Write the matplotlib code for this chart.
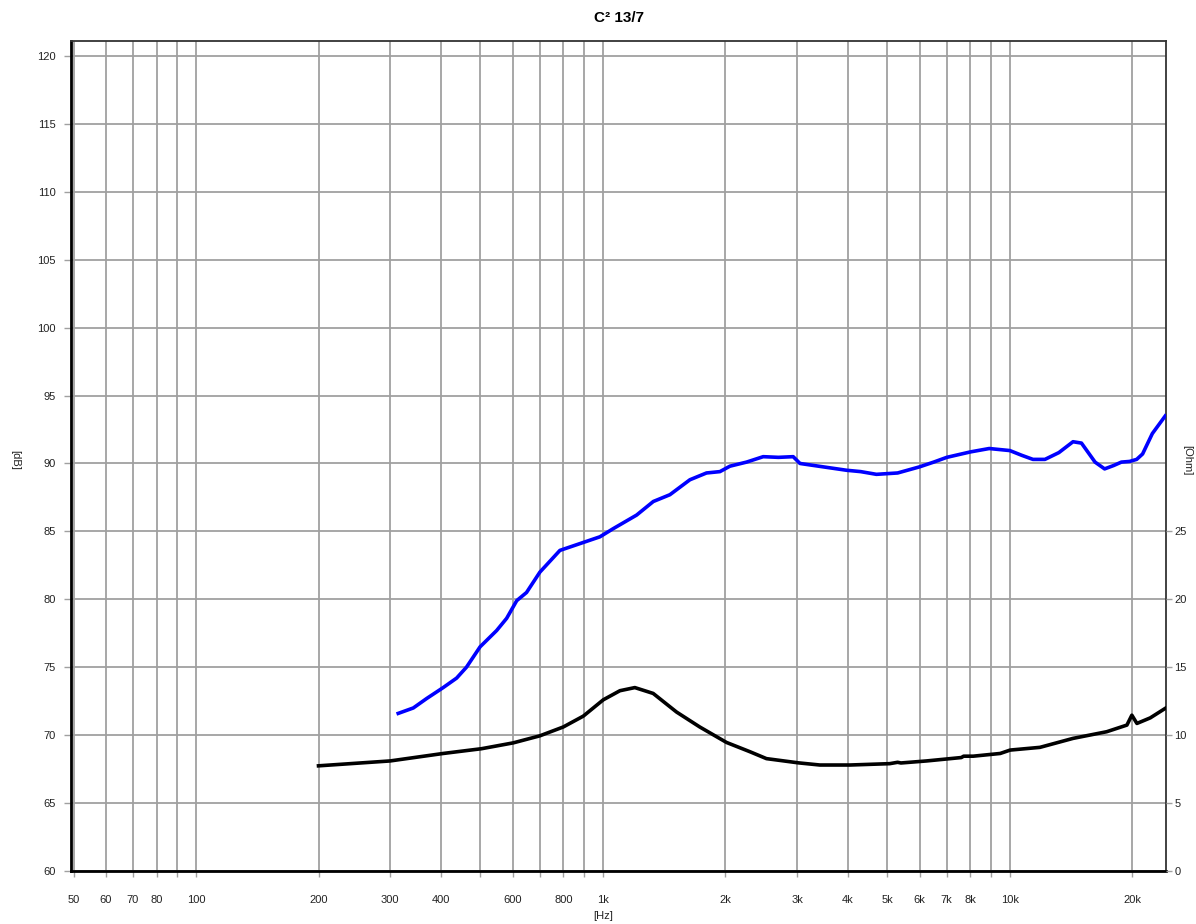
import numpy as np
import matplotlib
matplotlib.use('Agg')
import matplotlib.pyplot as plt
from matplotlib.ticker import FixedLocator, NullLocator, NullFormatter

plt.rcParams['font.family'] = ['Liberation Sans', 'DejaVu Sans']

# SPL curve (blue), frequency in Hz, level in dB
spl_freq = [314, 342, 369, 405, 437, 462, 499, 548, 580, 614, 649, 700, 784, 878,
            983, 1060, 1210, 1330, 1461, 1636, 1797, 1939, 2052, 2254, 2477, 2700,
            2935, 3050, 3300, 3970, 4300, 4700, 5300, 6000, 6500, 7000, 8000, 8900,
            10000, 10700, 11400, 12200, 13200, 14300, 15000, 16200, 17100, 18000,
            18800, 19700, 20500, 21200, 22400, 23300, 24100]
spl_db = [71.6, 72.0, 72.7, 73.5, 74.2, 75.0, 76.5, 77.7, 78.6, 79.9, 80.5, 82.0,
          83.6, 84.1, 84.6, 85.2, 86.2, 87.2, 87.7, 88.8, 89.3, 89.4, 89.8, 90.1,
          90.5, 90.45, 90.5, 90.0, 89.85, 89.5, 89.4, 89.2, 89.3, 89.75, 90.1,
          90.45, 90.85, 91.1, 90.95, 90.6, 90.3, 90.3, 90.8, 91.6, 91.5, 90.1,
          89.6, 89.85, 90.1, 90.15, 90.3, 90.7, 92.2, 92.9, 93.5]

# Impedance curve (black), in Ohm
imp_freq = [200, 300, 405, 503, 602, 700, 799, 895, 1002, 1101, 1198, 1329, 1517,
            1730, 2013, 2297, 2523, 3021, 3413, 4048, 5069, 5300, 5400, 6244, 7600,
            7700, 8130, 9472, 10020, 11860, 14300, 17300, 19400, 19950, 20530,
            22140, 24100]
imp_ohm = [7.74, 8.1, 8.65, 9.0, 9.43, 9.95, 10.6, 11.4, 12.6, 13.27, 13.5, 13.07,
           11.7, 10.6, 9.46, 8.78, 8.27, 7.96, 7.8, 7.8, 7.9, 8.0, 7.95, 8.1, 8.35,
           8.45, 8.45, 8.65, 8.9, 9.1, 9.76, 10.25, 10.74, 11.47, 10.86, 11.27, 11.97]

grid_freqs = [50, 60, 70, 80, 90, 100, 200, 300, 400, 500, 600, 700, 800, 900,
              1000, 2000, 3000, 4000, 5000, 6000, 7000, 8000, 9000, 10000, 20000]
x_tick_freqs = [50, 60, 70, 80, 100, 200, 300, 400, 600, 800, 1000, 2000, 3000,
                4000, 5000, 6000, 7000, 8000, 10000, 20000]
x_tick_labels = ['50', '60', '70', '80', '100', '200', '300', '400', '600', '800',
                 '1k', '2k', '3k', '4k', '5k', '6k', '7k', '8k', '10k', '20k']
db_ticks = [60, 65, 70, 75, 80, 85, 90, 95, 100, 105, 110, 115, 120]
ohm_ticks = [0, 5, 10, 15, 20, 25]

ymin, ymax = 60, 121.1
grid_col = '#a0a0a0'
txt_col = '#222222'

fig = plt.figure(figsize=(11.96, 9.24), dpi=100)
ax = fig.add_axes([0.0594, 0.0574, 0.9155, 0.8982])
ax.set_xscale('log')
ax.set_xlim(49.3, 24200)
ax.set_ylim(ymin, ymax)

ax.xaxis.set_major_locator(FixedLocator(grid_freqs))
ax.xaxis.set_minor_locator(NullLocator())
ax.xaxis.set_minor_formatter(NullFormatter())
ax.set_xticks(grid_freqs)
ax.set_xticklabels([x_tick_labels[x_tick_freqs.index(f)] if f in x_tick_freqs else '' for f in grid_freqs])
ax.set_yticks(db_ticks)
ax.grid(True, color=grid_col, linewidth=1.3)
ax.set_axisbelow(True)
ax.tick_params(axis='x', labelsize=8, length=4, width=1, color=grid_col, pad=13, labelcolor=txt_col)
ax.tick_params(axis='y', labelsize=8, length=5, width=1, color=grid_col, pad=6, labelcolor=txt_col)

for side in ['left', 'bottom']:
    ax.spines[side].set_linewidth(2)
for side in ['top', 'right']:
    ax.spines[side].set_linewidth(1.3)
    ax.spines[side].set_color('#333333')

ax.plot(spl_freq, spl_db, color='#0000ff', linewidth=2.6, zorder=3)

ax2 = ax.twinx()
ax2.set_ylim(0, ymax - ymin)
ax2.set_yticks(ohm_ticks)
ax2.tick_params(axis='y', labelsize=8, length=4, width=1, color=grid_col, pad=2, labelcolor=txt_col)
ax2.plot(imp_freq, imp_ohm, color='black', linewidth=2.6, zorder=3)
for s in ax2.spines.values():
    s.set_visible(False)

ax.set_title('C² 13/7', fontsize=11, fontweight='bold', pad=14)
fig.text(0.0125, 0.502, '[dB]', rotation=-90, fontsize=8, ha='center', va='center', color=txt_col)
fig.text(0.5042, 0.0087, '[Hz]', fontsize=8, ha='center', va='center', color=txt_col)
fig.text(0.9925, 0.502, '[Ohm]', rotation=-90, fontsize=8, ha='center', va='center', color=txt_col)

plt.savefig('out.png', dpi=100)
